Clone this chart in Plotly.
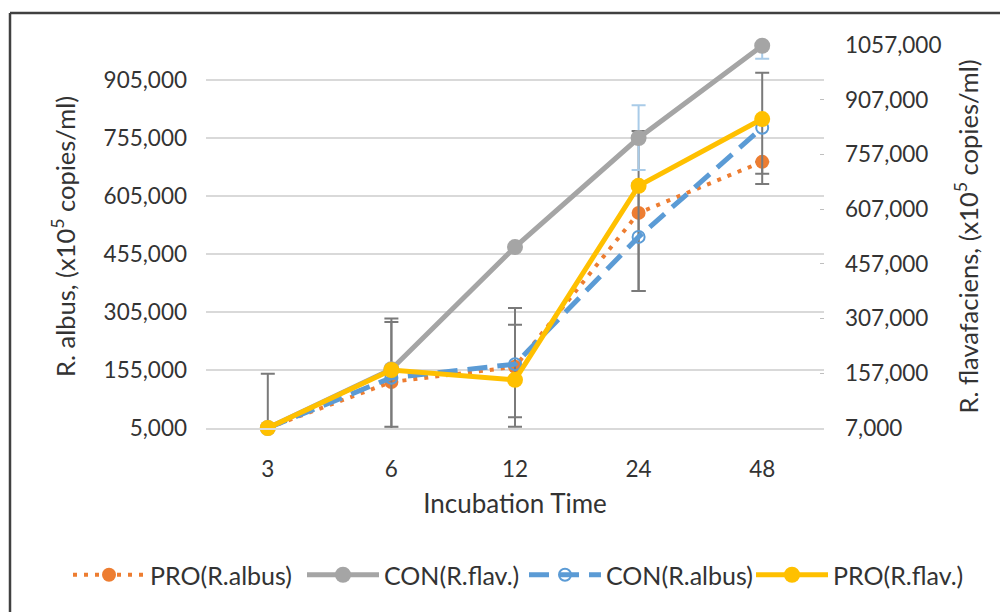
import plotly.graph_objects as go

# ---- data ----
incubation = ["3", "6", "12", "24", "48"]

pro_albus = [5000, 124000, 163000, 561000, 693000]      # left axis
con_flav = [7000, 168000, 503000, 802000, 1055000]     # right axis
con_albus = [5000, 135000, 170000, 499000, 781000]     # left axis
pro_flav = [7000, 166000, 139000, 671000, 854000]      # right axis

pro_albus_err_plus = [140000, 155000, 109000, 212000, 0]
pro_albus_err_minus = [0, 116000, 155000, 202000, 31000]
con_albus_err_plus = [0, 153000, 145000, 140000, 142000]
con_albus_err_minus = [0, 132000, 137000, 140000, 145000]
con_flav_err_plus = [0, 0, 0, 90000, 0]
con_flav_err_minus = [0, 0, 0, 88000, 36000]

left_tick_vals = [5000, 155000, 305000, 455000, 605000, 755000, 905000]
left_tick_text = ["5,000", "155,000", "305,000", "455,000", "605,000", "755,000", "905,000"]
right_tick_vals = [7000, 157000, 307000, 457000, 607000, 757000, 907000, 1057000]
right_tick_text = ["7,000", "157,000", "307,000", "457,000", "607,000", "757,000", "907,000", "1057,000"]

ORANGE = "#ED7D31"
GRAY = "#A5A5A5"
BLUE = "#5B9BD5"
YELLOW = "#FFC000"
ERR_DARK = "#7a7a7a"
ERR_LIGHT = "#a9cbe8"

fig = go.Figure()

fig.add_trace(go.Scatter(
    x=incubation, y=pro_albus, name="PRO(R.albus)", yaxis="y", legend="legend",
    mode="lines+markers", cliponaxis=False,
    line=dict(color=ORANGE, width=4, dash="4px,7px"),
    marker=dict(symbol="circle", size=14, color=ORANGE),
    error_y=dict(type="data", symmetric=False, array=pro_albus_err_plus,
                 arrayminus=pro_albus_err_minus, color=ERR_DARK, thickness=2, width=7),
))
fig.add_trace(go.Scatter(
    x=incubation, y=con_flav, name="CON(R.flav.)", yaxis="y2", legend="legend2",
    mode="lines+markers", cliponaxis=False,
    line=dict(color=GRAY, width=5),
    marker=dict(symbol="circle", size=16, color=GRAY),
    error_y=dict(type="data", symmetric=False, array=con_flav_err_plus,
                 arrayminus=con_flav_err_minus, color=ERR_LIGHT, thickness=2, width=7),
))
fig.add_trace(go.Scatter(
    x=incubation, y=con_albus, name="CON(R.albus)", yaxis="y", legend="legend3",
    mode="lines+markers", cliponaxis=False,
    line=dict(color=BLUE, width=5, dash="20px,10px"),
    marker=dict(symbol="circle-open", size=12, color=BLUE, line=dict(width=2, color=BLUE)),
    error_y=dict(type="data", symmetric=False, array=con_albus_err_plus,
                 arrayminus=con_albus_err_minus, color=ERR_DARK, thickness=2, width=7),
))
fig.add_trace(go.Scatter(
    x=incubation, y=pro_flav, name="PRO(R.flav.)", yaxis="y2", legend="legend4",
    mode="lines+markers", cliponaxis=False,
    line=dict(color=YELLOW, width=5),
    marker=dict(symbol="circle", size=16, color=YELLOW),
))

FONT = "Lato, 'Open Sans', sans-serif"
TXT = "#333333"

# figure is drawn 8px in from the page corner (browser body margin)
W, H = 1000, 604
L, R, T, B = 198, 184, 37, 184
PW = W - L - R
PH = H - T - B


def px_x(x):
    return (x - L) / PW


def px_y(y):
    return (H - B - y) / PH


legend_common = dict(orientation="h", xanchor="left", yanchor="middle",
                     font=dict(size=25, color=TXT), itemwidth=72,
                     bgcolor="rgba(0,0,0,0)", borderwidth=0)
legend_y = px_y(567)

fig.update_layout(
    width=W, height=H,
    margin=dict(l=L, r=R, t=T, b=B, autoexpand=False),
    paper_bgcolor="white", plot_bgcolor="white",
    font=dict(family=FONT, color=TXT, size=22.5),
    showlegend=True,
    legend=dict(x=px_x(60), y=legend_y, **legend_common),
    legend2=dict(x=px_x(294), y=legend_y, **legend_common),
    legend3=dict(x=px_x(516), y=legend_y, **legend_common),
    legend4=dict(x=px_x(743), y=legend_y, **legend_common),
    xaxis=dict(type="category", categoryorder="array", categoryarray=incubation,
               range=[-0.5, len(incubation) - 0.5],
               showgrid=False, showline=True, linecolor="#d9d9d9", linewidth=1.5,
               ticks="", ticklabelstandoff=20, zeroline=False,
               title=dict(text="Incubation Time", font=dict(size=26, color=TXT), standoff=14)),
    yaxis=dict(range=[5000, 995000], tickmode="array", tickvals=left_tick_vals, ticktext=left_tick_text,
               showgrid=True, gridcolor="#d9d9d9", gridwidth=1.5, zeroline=False, showline=False,
               ticks="", ticklabelstandoff=18,
               title=dict(text="R. albus, (x10<sup>5</sup> copies/ml)", font=dict(size=25.5, color=TXT), standoff=20)),
    yaxis2=dict(overlaying="y", side="right", range=[7000, 1057000], tickmode="array",
                tickvals=right_tick_vals, ticktext=right_tick_text,
                showgrid=False, zeroline=False, showline=False,
                ticks="inside", ticklen=4, tickcolor="#bfbfbf", ticklabelstandoff=20,
                title=dict(text="R. flavafaciens, (x10<sup>5</sup> copies/ml)", font=dict(size=25.5, color=TXT), standoff=19)),
    shapes=[
        dict(type="line", xref="paper", yref="paper", x0=px_x(2), x1=px_x(2), y0=px_y(5), y1=px_y(620),
             line=dict(color="#404040", width=2.5)),
        dict(type="line", xref="paper", yref="paper", x0=px_x(2), x1=px_x(1020), y0=px_y(5), y1=px_y(5),
             line=dict(color="#404040", width=2.5)),
    ],
)

fig.write_html("out.html")
